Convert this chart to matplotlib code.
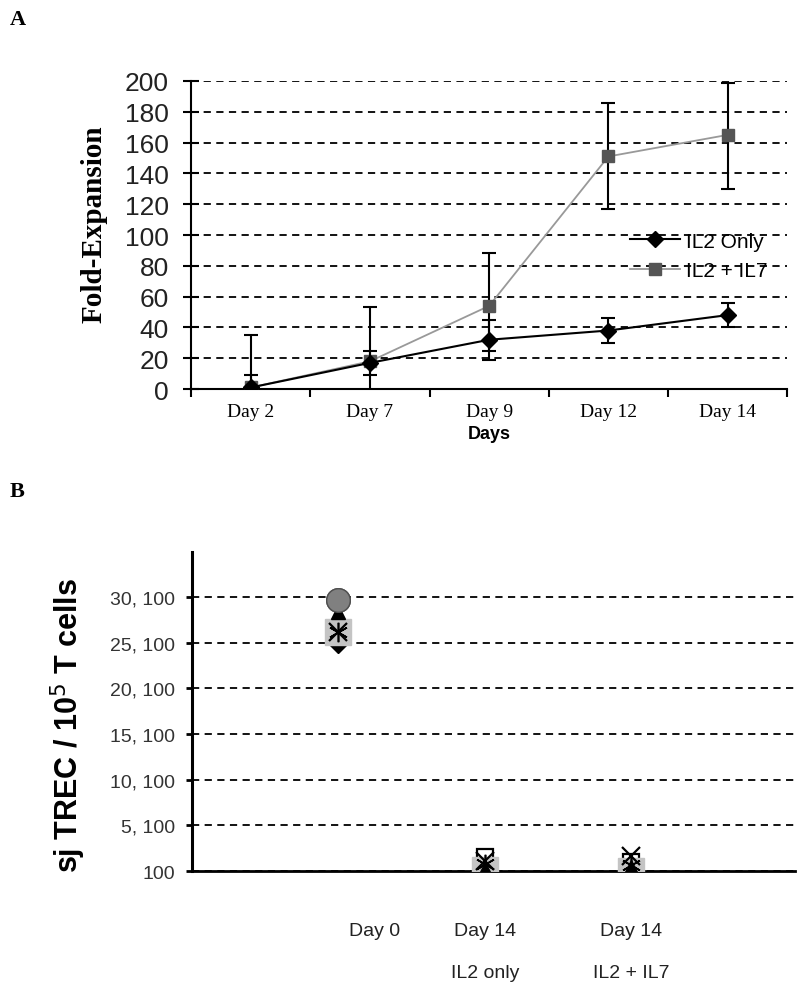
import matplotlib
matplotlib.use("Agg")
import matplotlib.pyplot as plt
from matplotlib.lines import Line2D
from matplotlib.transforms import ScaledTranslation
import numpy as np

# panel A data
days = ['Day 2', 'Day 7', 'Day 9', 'Day 12', 'Day 14']
il2_only = [1, 17, 32, 38, 48]
il2_only_err = [8, 8, 13, 8, 8]
il2_il7 = [1, 18, 54, 151, 165]
il2_il7_err_lo = [34, 35, 29, 34, 35]
il2_il7_err_hi = [34, 35, 34, 35, 34]

# panel B data (one series per donor)
groups = ['Day 0', 'Day 14\nIL2 only', 'Day 14\nIL2 + IL7']
donor_diamond = [25100, 500, 300]
donor_grey_square = [26300, 200, 150]
donor_open_square = [26300, 1600, 1100]
donor_triangle = [28400, 300, 500]
donor_x = [26300, 1200, 1700]
donor_star = [26300, 900, 800]
donor_circle = [29800, 100, 100]

fig = plt.figure(figsize=(8, 9.95), dpi=100)

# ---- panel A ----
ax = fig.add_axes([0.239, 0.608, 0.745, 0.3096])
x = np.arange(len(days))
ax.errorbar(x, il2_il7, yerr=[il2_il7_err_lo, il2_il7_err_hi], color='#999999', lw=1.3,
            marker='s', ms=9, mfc='#555555', mec='#555555', ecolor='black', elinewidth=1.5,
            capsize=5, capthick=1.5, zorder=3)
ax.errorbar(x, il2_only, yerr=il2_only_err, color='black', lw=1.5,
            marker='D', ms=8, mfc='black', mec='black', ecolor='black', elinewidth=1.5,
            capsize=5, capthick=1.5, zorder=4)
ax.set_ylim(0, 200)
ax.set_xlim(-0.5, 4.5)
ax.set_yticks(range(0, 201, 20))
ax.yaxis.grid(True, linestyle=(0, (4, 3)), color='black', lw=1.3)
ax.set_axisbelow(True)
ax.set_xticks(x)
ax.set_xticklabels(days, fontfamily='Liberation Serif', fontsize=14)
ax.set_xticks(np.arange(-0.5, 4.6, 1.0), minor=True)
ax.tick_params(axis='x', which='major', length=0, pad=10)
ax.tick_params(axis='x', which='minor', length=6, width=1.5, direction='out')
ax.tick_params(axis='y', length=12, width=1.5, direction='inout', labelsize=19, pad=10)
for lab in ax.get_yticklabels():
    lab.set_fontfamily('Liberation Sans')
    lab.set_color('#222222')
for s in ['top', 'right']:
    ax.spines[s].set_visible(False)
ax.spines['left'].set_linewidth(1.5)
ax.spines['bottom'].set_linewidth(1.5)
ax.set_ylabel('Fold-Expansion', fontfamily='Liberation Serif', fontweight='bold', fontsize=21)
ax.yaxis.set_label_coords(-0.14, 0.54)
ax.set_xlabel('Days', fontfamily='Liberation Sans', fontweight='bold', fontsize=13, labelpad=4)
handles = [Line2D([], [], color='black', lw=1.5, marker='D', ms=8, mfc='black'),
           Line2D([], [], color='#999999', lw=1.3, marker='s', ms=9, mfc='#555555', mec='#555555')]
ax.legend(handles, ['IL2 Only', 'IL2 + IL7'], loc='center left', bbox_to_anchor=(0.737, 0.432),
          frameon=False, borderpad=0, borderaxespad=0,
          prop={'family': 'Liberation Sans', 'size': 15}, handlelength=2.4, handletextpad=0.25,
          labelspacing=0.5)
fig.text(0.012, 0.975, 'A', fontfamily='Liberation Serif', fontweight='bold', fontsize=16)

# ---- panel B ----
bx = fig.add_axes([0.24, 0.1236, 0.754, 0.3206])
xb = np.arange(1, len(groups) + 1)
bx.plot(xb, donor_circle, ls='none', marker='o', ms=17, mfc='#808080', mec='#505050', zorder=2)
bx.plot(xb, donor_diamond, ls='none', marker='D', ms=10, mfc='black', mec='black', zorder=3)
bx.plot(xb, donor_open_square, ls='none', marker='s', ms=12, mfc='white', mec='black', mew=1.6, zorder=3)
bx.plot(xb, donor_grey_square, ls='none', marker='s', ms=19, mfc='#c4c4c4', mec='#c4c4c4', zorder=4)
bx.plot(xb, donor_triangle, ls='none', marker='^', ms=10, mfc='black', mec='black', zorder=4)
bx.plot(xb, donor_x, ls='none', marker='x', ms=13, mec='black', mew=1.6, zorder=5)
bx.plot(xb, donor_star, ls='none', marker=(6, 2, 0), ms=14, mec='black', mew=1.2, zorder=5)
# circle on top at Day 0 only
bx.plot(xb[:1], donor_circle[:1], ls='none', marker='o', ms=17, mfc='#808080', mec='#505050', zorder=6)
bx.set_ylim(100, 35000)
bx.set_xlim(0, 4.12)
bx.set_yticks(range(100, 30101, 5000))
bx.set_yticklabels(['{:,}'.format(v).replace(',', ', ') for v in range(100, 30101, 5000)],
                   fontfamily='Liberation Sans', fontsize=14, color='#333333')
bx.yaxis.grid(True, linestyle=(0, (4, 3)), color='black', lw=1.3)
bx.set_axisbelow(True)
bx.set_xticks(xb)
bx.set_xticklabels(groups, fontfamily='Liberation Sans', fontsize=14, color='#222222',
                   linespacing=2.9)
bx.tick_params(axis='x', length=0, pad=37)
bx.tick_params(axis='y', length=4, width=2, direction='out', pad=8)
first = bx.get_xticklabels()[0]
first.set_transform(first.get_transform() + ScaledTranslation(0.36, 0, fig.dpi_scale_trans))
for s in ['top', 'right']:
    bx.spines[s].set_visible(False)
bx.spines['left'].set_linewidth(2.2)
bx.spines['bottom'].set_linewidth(2.0)
bx.set_ylabel('sj TREC / 10$^5$ T cells', fontfamily='Liberation Sans', fontweight='bold',
              fontsize=22)
bx.yaxis.set_label_coords(-0.172, 0.46)
fig.text(0.012, 0.5, 'B', fontfamily='Liberation Serif', fontweight='bold', fontsize=16)

fig.savefig('out.png', dpi=100)
